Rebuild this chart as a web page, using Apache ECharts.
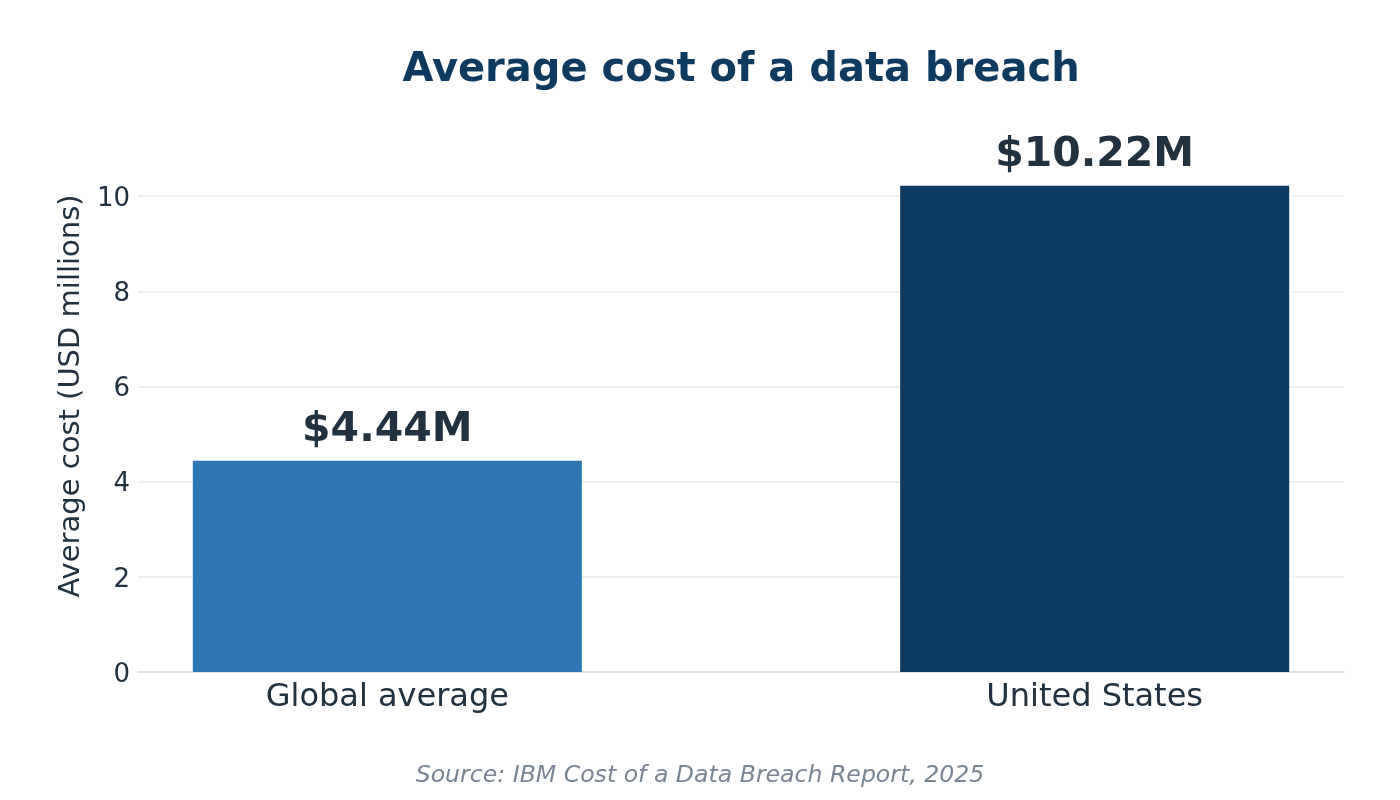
<!DOCTYPE html>
<html>
<head>
<meta charset="utf-8">
<title>Average cost of a data breach</title>
<script src="https://cdn.jsdelivr.net/npm/echarts@6/dist/echarts.min.js"></script>
<style>
  html, body { margin: 0; padding: 0; background: #ffffff; }
  #chart { width: 1400px; height: 800px; }
</style>
</head>
<body>
<div id="chart"></div>
<script>
// data
const categories = ["Global average", "United States"];
const costs = [4.44, 10.22];
const valueLabels = ["$4.44M", "$10.22M"];
const yTicks = [0, 2, 4, 6, 8, 10];

const barColors = ["#2e75b4", "#0f3a5f"];
const FONT = "DejaVu Sans";

// plot area, matplotlib-like x range around the two bars
const grid = { left: 138, right: 56, top: 120, bottom: 128 };
const xMin = -0.3525, xMax = 1.3525;
const yMax = 11.6;
const barFrac = 0.55;
const gridWidth = 1400 - grid.left - grid.right;
const barPx = barFrac * gridWidth / (xMax - xMin);

const chart = echarts.init(document.getElementById("chart"), null, { renderer: "canvas" });

const option = {
  animation: false,
  backgroundColor: "#ffffff",
  textStyle: { fontFamily: FONT },
  title: [
    {
      text: "Average cost of a data breach",
      left: 741,
      top: 51,
      padding: 0,
      textAlign: "center",
      textStyle: { fontFamily: FONT, fontSize: 40, fontWeight: "bold", color: "#0f3a5f" }
    },
    {
      text: "Source: IBM Cost of a Data Breach Report, 2025",
      left: 700,
      top: 764,
      padding: 0,
      textAlign: "center",
      textStyle: { fontFamily: FONT, fontSize: 23.6, fontStyle: "italic", fontWeight: "normal", color: "#7a8594" }
    }
  ],
  grid: grid,
  xAxis: {
    type: "value",
    min: xMin,
    max: xMax,
    axisLine: { show: true, lineStyle: { color: "#d5dbe0", width: 1.5 } },
    axisTick: { show: false },
    splitLine: { show: false },
    axisLabel: {
      customValues: [0, 1],
      formatter: (v) => categories[Math.round(v)] || "",
      fontFamily: FONT,
      fontSize: 32,
      color: "#22313f",
      margin: 10
    }
  },
  yAxis: {
    type: "value",
    min: 0,
    max: yMax,
    interval: 2,
    name: "Average cost (USD millions)",
    nameLocation: "middle",
    nameGap: 50,
    nameTextStyle: { fontFamily: FONT, fontSize: 29, color: "#22313f" },
    axisLine: { show: false },
    axisTick: { show: false },
    splitLine: { show: true, showMaxLine: false, lineStyle: { color: "#e8edf0", width: 1.5 } },
    axisLabel: {
      showMaxLabel: false,
      formatter: (v) => (yTicks.indexOf(v) >= 0 ? String(v) : ""),
      fontFamily: FONT,
      fontSize: 26,
      color: "#22313f",
      verticalAlign: "top",
      lineHeight: 6,
      margin: 8
    }
  },
  series: [
    {
      type: "bar",
      barWidth: barPx,
      data: costs.map((c, i) => ({
        value: [i, c],
        itemStyle: { color: barColors[i] }
      })),
      label: {
        show: true,
        position: "top",
        distance: 10,
        formatter: (p) => valueLabels[p.dataIndex],
        fontFamily: FONT,
        fontSize: 41,
        fontWeight: "bold",
        color: "#22313f"
      }
    }
  ]
};

chart.setOption(option);
</script>
</body>
</html>
